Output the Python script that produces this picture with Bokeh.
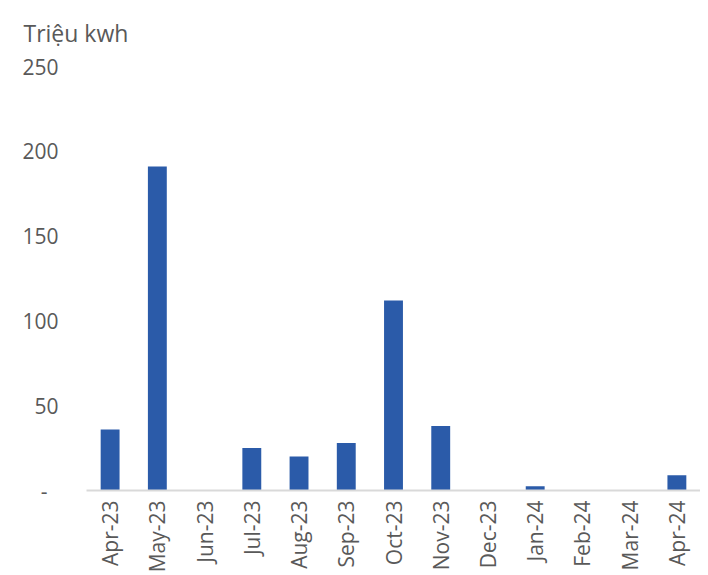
import math
from bokeh.plotting import figure
from bokeh.models import ColumnDataSource, FixedTicker, Range1d
from bokeh.embed import file_html
from bokeh.resources import INLINE

months = ["Apr-23", "May-23", "Jun-23", "Jul-23", "Aug-23", "Sep-23", "Oct-23",
          "Nov-23", "Dec-23", "Jan-24", "Feb-24", "Mar-24", "Apr-24"]
values = [36, 191, 0, 25, 20, 28, 112, 38, 0, 2.5, 0, 0, 9]
y_ticks = [0, 50, 100, 150, 200, 250]
y_tick_labels = {0: "-\u00a0\u00a0", 50: "50", 100: "100", 150: "150", 200: "200", 250: "250"}
unit_label = "Triệu kwh"

FONT = "Open Sans"
TXT = "#595959"

src = ColumnDataSource(dict(month=months, value=values))

p = figure(x_range=months, width=700, height=575, output_backend="svg",
           toolbar_location=None, min_border_left=86, min_border_right=0,
           min_border_top=65, min_border_bottom=80, title=unit_label)
p.y_range = Range1d(0, 250)
p.vbar(x="month", top="value", width=0.4, source=src, color="#2B5BA9", line_color=None)

p.outline_line_color = None
p.xgrid.grid_line_color = None
p.ygrid.grid_line_color = None
p.background_fill_color = "white"
p.border_fill_color = "white"

p.title.text_font = FONT
p.title.text_font_size = "23px"
p.title.text_font_style = "normal"
p.title.text_color = TXT
p.title.align = "left"
p.title.offset = -63
p.title.standoff = 32
p.title.vertical_align = "top"

ya = p.yaxis[0]
ya.ticker = FixedTicker(ticks=y_ticks)
ya.major_label_overrides = y_tick_labels
ya.axis_line_color = None
ya.major_tick_line_color = None
ya.major_tick_out = 0
ya.major_tick_in = 0
ya.minor_tick_line_color = None
ya.major_label_standoff = 28
ya.major_label_text_font = FONT
ya.major_label_text_font_size = "21px"
ya.major_label_text_color = TXT

xa = p.xaxis[0]
xa.axis_line_color = "#D9D9D9"
xa.axis_line_width = 2
xa.major_tick_line_color = None
xa.major_tick_out = 0
xa.major_tick_in = 0
xa.minor_tick_line_color = None
xa.major_label_orientation = math.pi / 2
xa.major_label_standoff = 10
xa.major_label_text_font = FONT
xa.major_label_text_font_size = "21px"
xa.major_label_text_color = TXT

open("out.html", "w").write(file_html(p, INLINE))
